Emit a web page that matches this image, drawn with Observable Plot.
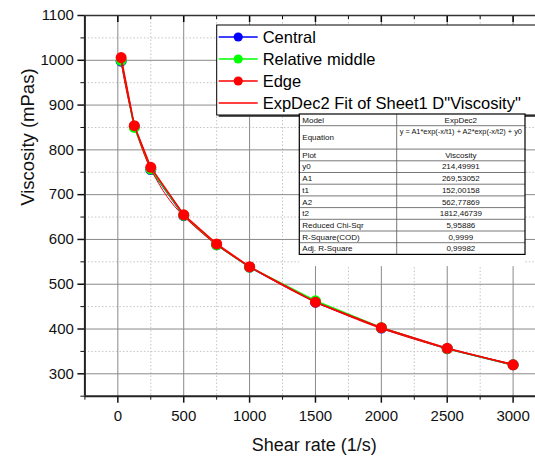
<!DOCTYPE html>
<html>
<head>
<meta charset="utf-8">
<script src="https://cdn.jsdelivr.net/npm/d3@7"></script>
<script src="https://cdn.jsdelivr.net/npm/@observablehq/plot@0.6"></script>
<style>
  html, body { margin: 0; padding: 0; background: #fff; }
  #chart { width: 535px; height: 456px; overflow: hidden; }
  svg { font-family: "Liberation Sans", Arial, sans-serif; }
</style>
</head>
<body>
<div id="chart"></div>
<script>
// ---- data ----
const shearRate = [25, 125, 250, 500, 750, 1000, 1500, 2000, 2500, 3000];
const central = [998, 852, 756, 653, 588, 538, 460, 402, 356, 320];
const relativeMiddle = [1000, 850, 757, 654, 588, 538, 463, 403, 356, 320];
const edge = [1006, 854, 761, 655, 590, 539, 460, 403, 357, 320];
// fit curve
const fitX = [25, 60, 125, 190, 250, 375, 500, 750, 1000, 1250, 1500, 1750, 2000, 2500, 3000];
const fitY = [998, 940, 858, 798, 757, 695, 652, 588, 539, 497, 460, 429, 401, 356, 322];

const xMajor = [0, 500, 1000, 1500, 2000, 2500, 3000];
const xMinor = [-250, 250, 750, 1250, 1750, 2250, 2750];
const yMajor = [300, 400, 500, 600, 700, 800, 900, 1000, 1100];
const yMinor = [250, 350, 450, 550, 650, 750, 850, 950, 1050];

const seriesNames = ["Central", "Relative middle", "Edge"];
const seriesColors = ["#0000ff", "#00ff00", "#ff0000"];
const fitName = "ExpDec2 Fit of Sheet1 D\"Viscosity\"";

const tableLabels = ["Model", "Equation", "Plot", "y0", "A1", "t1", "A2", "t2", "Reduced Chi-Sqr", "R-Square(COD)", "Adj. R-Square"];
const tableValues = ["ExpDec2", "y = A1*exp(-x/t1) + A2*exp(-x/t2) + y0", "Viscosity", "214,49991", "269,53052", "152,00158", "562,77869", "1812,46739", "5,95886", "0,9999", "0,99982"];

const rows = (ys, name) => shearRate.map((x, i) => ({x, y: ys[i], name}));
const seriesData = [rows(central, seriesNames[0]), rows(relativeMiddle, seriesNames[1]), rows(edge, seriesNames[2])];
const fitData = fitX.map((x, i) => ({x, y: fitY[i]}));

const W = 535, H = 456;
const mL = 84.4, mR = 0, mT = 15, mB = 60.3;
const innerH = H - mT - mB;

const marks = [
  Plot.ruleX(xMinor.slice(1), {stroke: "#c4c4c4", strokeDasharray: "1.5,2"}),
  Plot.ruleY(yMinor.slice(1), {stroke: "#c4c4c4", strokeDasharray: "1.5,2"}),
  Plot.ruleX(xMajor, {stroke: "#8a8a8a", strokeWidth: 1}),
  Plot.ruleY(yMajor.slice(0, -1), {stroke: "#8a8a8a", strokeWidth: 1}),
  // top inner ticks
  Plot.ruleX(xMajor, {insetBottom: innerH - 7, stroke: "#000", strokeWidth: 1.5}),
  Plot.ruleX(xMinor.slice(1), {insetBottom: innerH - 4, stroke: "#000", strokeWidth: 1}),
  Plot.axisX(xMajor, {tickSize: 7, tickPadding: 7, fontSize: 15, label: null, strokeWidth: 1.5, tickFormat: d => String(d)}),
  Plot.axisX(xMinor, {tickSize: 4, tickFormat: () => "", label: null}),
  Plot.axisY(yMajor, {tickSize: 7, tickPadding: 4, fontSize: 15, label: null, strokeWidth: 1.5, tickFormat: d => String(d)}),
  Plot.axisY(yMinor, {tickSize: 4, tickFormat: () => "", label: null}),
  Plot.ruleY([250], {stroke: "#222", strokeWidth: 2}),
  Plot.ruleX([-250], {stroke: "#222", strokeWidth: 2}),
  Plot.ruleY([1100], {stroke: "#333", strokeWidth: 1.5}),
];
seriesData.forEach((d, i) => {
  marks.push(Plot.line(d, {x: "x", y: "y", stroke: seriesColors[i], strokeWidth: 1.6}));
  marks.push(Plot.dot(d, {x: "x", y: "y", r: 5.5, fill: seriesColors[i], stroke: "none"}));
});
marks.push(Plot.line(fitData, {x: "x", y: "y", stroke: "#ff0000", strokeWidth: 1, curve: "catmull-rom"}));
marks.push(Plot.text(["Shear rate (1/s)"], {frameAnchor: "bottom", dx: 4, dy: 55, fontSize: 18, fill: "#111", lineAnchor: "bottom"}));
marks.push(Plot.text(["Viscosity (mPas)"], {frameAnchor: "left", dx: -57, rotate: -90, fontSize: 18.5, fill: "#111"}));

const chart = Plot.plot({
  width: W, height: H,
  marginLeft: mL, marginRight: mR, marginTop: mT, marginBottom: mB,
  x: {domain: [-250, 3170]},
  y: {domain: [250, 1100]},
  style: {fontFamily: "'Liberation Sans', Arial, sans-serif", color: "#111", background: "#fff", overflow: "hidden"},
  marks
});
document.getElementById("chart").appendChild(chart);

// ---- legend and fit table overlays ----
const svg = d3.select(chart);
const lg = svg.append("g").attr("text-anchor", "start");
const lx = 216.7, ly = 25, lh = 90;
lg.append("rect").attr("x", lx + 2).attr("y", ly + 2).attr("width", 340).attr("height", lh).attr("fill", "#555");
lg.append("rect").attr("x", lx).attr("y", ly).attr("width", 340).attr("height", lh).attr("fill", "#fff").attr("stroke", "#000").attr("stroke-width", 1);
const legendItems = seriesNames.map((n, i) => ({name: n, color: seriesColors[i], dot: true}))
  .concat([{name: fitName, color: "#ff0000", dot: false}]);
legendItems.forEach((it, i) => {
  const y = 37 + i * 22;
  lg.append("line").attr("x1", lx + 2).attr("x2", lx + 41).attr("y1", y).attr("y2", y).attr("stroke", it.color).attr("stroke-width", 1.4);
  if (it.dot) lg.append("circle").attr("cx", lx + 21.5).attr("cy", y).attr("r", 4.6).attr("fill", it.color);
  lg.append("text").attr("x", lx + 46).attr("y", y).attr("dy", "0.35em").attr("text-anchor", "start").attr("font-size", 16.5).attr("fill", "#000").text(it.name);
});

const tg = svg.append("g");
const tx0 = 299.3, tx1 = 525, tdiv = 396.7, ty0 = 114, rh = 11.7;
tg.append("rect").attr("x", tx0).attr("y", ty0).attr("width", tx1 - tx0).attr("height", rh * 13).attr("fill", "#fff");
let yy = ty0;
tableLabels.forEach((lab, i) => {
  const h = i === 1 ? rh * 2 : rh;
  if (i > 0) tg.append("line").attr("x1", tx0).attr("x2", tx1).attr("y1", yy).attr("y2", yy).attr("stroke", "#555").attr("stroke-width", 0.8);
  tg.append("text").attr("x", tx0 + 3).attr("y", yy + h / 2).attr("dy", "0.35em").attr("text-anchor", "start").attr("font-size", 8).attr("fill", "#111").text(lab);
  tg.append("text").attr("x", (tdiv + tx1) / 2).attr("y", i === 1 ? yy + 5.5 : yy + h / 2).attr("dy", "0.35em").attr("text-anchor", "middle").attr("font-size", i === 1 ? 7.4 : 8).attr("fill", "#111").text(tableValues[i]);
  yy += h;
});
tg.append("line").attr("x1", tdiv).attr("x2", tdiv).attr("y1", ty0).attr("y2", yy).attr("stroke", "#555").attr("stroke-width", 0.8);
tg.append("rect").attr("x", tx0).attr("y", ty0).attr("width", tx1 - tx0).attr("height", yy - ty0).attr("fill", "none").attr("stroke", "#000").attr("stroke-width", 1.2);
</script>
</body>
</html>
